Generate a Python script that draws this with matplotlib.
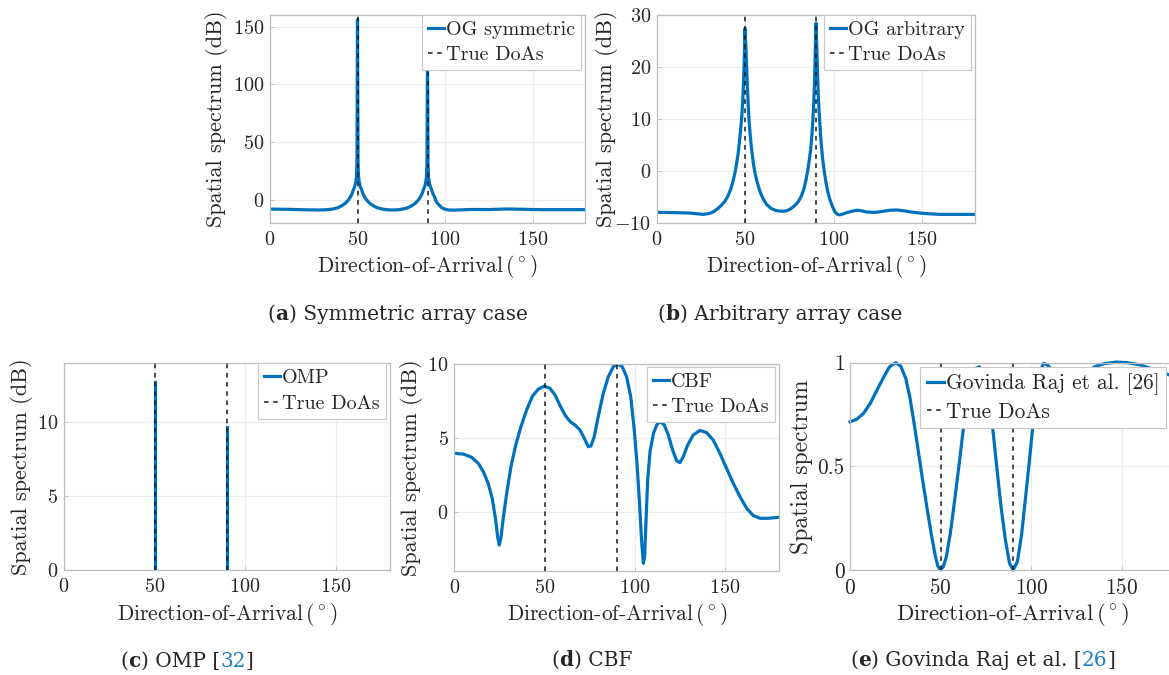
import numpy as np
import matplotlib
matplotlib.use("Agg")
import matplotlib.pyplot as plt

plt.rcParams['font.family'] = 'cmr10'
plt.rcParams['mathtext.fontset'] = 'cm'
plt.rcParams['axes.formatter.use_mathtext'] = True
plt.rcParams['axes.unicode_minus'] = True

W, H = 1169, 675
BLUE = '#0072BD'
TXT = '#262626'
SPINE = '#bdbdbd'
GRID = '#ececec'

true_doas = [50, 90]

# (a) OG symmetric
a_deg = [0, 10, 20, 28, 32, 36.2, 39, 41, 43, 44.8, 46, 47, 47.6, 48.4, 49.1, 49.4, 49.7, 50,
         50.3, 50.6, 50.9, 51.6, 52.4, 53, 54, 55.2, 57, 59, 61, 63.8, 67, 70,
         73, 76.2, 79, 81, 83, 84.8, 86, 87, 87.6, 88.4, 89.1, 89.4, 89.7, 90,
         90.3, 90.6, 90.9, 91.6, 92.4, 93, 94, 94.9, 96.5, 98.1, 100, 102, 105, 110, 116, 125, 135,
         145, 155, 180]
a_val = [-8.2, -8.4, -8.8, -9.0, -8.8, -8.1, -6.9, -5.3, -3.2, -0.3, 2.5, 5.5, 8.4, 11.2, 16, 20, 32, 156,
         32, 20, 16, 11.2, 8.4, 5.5, 2.5, -0.3, -3.2, -5.3, -6.9, -8.1, -8.8, -9.0,
         -8.8, -8.1, -6.9, -5.3, -3.2, -0.3, 2.5, 5.5, 8.4, 11.2, 16, 20, 32, 125,
         32, 20, 16, 11.2, 8.4, 5.5, 2.5, -1.5, -4.5, -7.0, -8.3, -9.0, -9.1, -8.8, -8.5, -8.6, -8.1,
         -8.4, -8.7, -8.7]

# (b) OG arbitrary
b_deg = [0, 8, 14, 18.8, 22, 26.4, 30, 32, 34.5, 36.7, 38.7, 40.5, 42, 43.3, 44.3, 45.2, 46, 46.7, 47.4, 48.1,
         48.6, 49, 49.4, 49.6, 49.8, 49.95, 50.2, 50.5, 50.9, 51.3, 51.7, 52.2, 52.9, 53.7, 54.6, 55.6, 57,
         58.4, 60.2, 62.2, 64.5, 66.9, 69, 71.6, 73.5, 75.4, 77.4, 79.2, 80.7, 82, 83.3, 84.4, 85.4, 86.3,
         87.1, 87.7, 88.3, 88.8, 89.2, 89.5, 89.8, 90.1, 90.4, 90.7, 91.1, 91.4, 92, 92.6, 93.2, 93.9, 94.8,
         95.8, 96.8, 98, 99.4, 100.8, 102, 103.3, 105.6, 107.5, 109.3, 111, 113.1, 115, 116.9, 119, 121.6,
         124, 126.3, 129, 131.9, 136, 139.5, 145, 150.8, 155, 160.2, 170, 180]
b_val = [-8.0, -8.05, -8.1, -8.15, -8.25, -8.4, -8.2, -7.9, -7.3, -6.6, -5.8, -4.7, -3.4, -1.8, -0.3, 1.4, 3.2, 5.3,
         7.7, 10.4, 13.2, 16.2, 20, 22.5, 25.5, 27.4, 25.5, 23.3, 19.5, 16.2, 13, 9.8, 6.8, 4.0, 1.6, -0.5, -2.4,
         -4.0, -5.4, -6.5, -7.2, -7.6, -7.75, -7.8, -7.7, -7.4, -6.9, -6.3, -5.6, -4.7, -3.4, -1.8, 0, 2.1,
         4.2, 6.6, 9.6, 13.0, 16.5, 20.7, 25, 28.4, 25, 22, 17.5, 14.3, 10.5, 7.2, 4.6, 2.1, -0.2,
         -2.4, -4.1, -5.6, -6.9, -7.9, -8.35, -8.5, -8.3, -8.05, -7.9, -7.75, -7.6, -7.65, -7.8, -7.95, -8.0,
         -8.0, -7.9, -7.75, -7.6, -7.55, -7.7, -8.0, -8.2, -8.3, -8.4, -8.4, -8.4]

# (c) OMP
omp_deg = [50, 90]
omp_val = [12.7, 9.7]

# (d) CBF
d_deg = [0, 5, 9.6, 13.3, 16.1, 18.8, 21.0, 22.9, 24.0, 24.9, 25.8, 27.1, 29.0, 31.4, 34.0, 36.9, 40.1, 43.2,
         46.5, 49.8, 53.0, 55.8, 58.5, 61.3, 64.1, 66.8, 69.6, 72.0, 74.2, 75.7, 77.5, 79.7, 82.5, 85.3, 88.1,
         90.5, 93.0, 95.4, 97.7, 99.5, 101.2, 102.6, 103.7, 104.7, 105.4, 106.2, 107.1, 108.4, 110.3, 112.1,
         113.9, 116.3, 118.5, 120.9, 123.1, 125.0, 126.8, 129.2, 132.4, 136.1, 139.7, 143.4, 147.1, 150.8,
         154.5, 158.2, 161.9, 165.6, 169.3, 173.9, 180]
d_val = [3.95, 3.9, 3.68, 3.27, 2.7, 1.9, 0.9, -0.56, -1.7, -2.26, -1.8, -0.45, 1.24, 3.05, 4.5, 5.75, 6.9, 7.8,
         8.3, 8.5, 8.35, 7.9, 7.2, 6.55, 6.1, 5.87, 5.53, 4.97, 4.4, 4.45, 5.08, 6.43, 8.0, 9.14, 9.82,
         10.0, 9.82, 9.14, 7.8, 5.75, 3.27, 0.56, -1.92, -3.5, -3.05, -0.56, 2.14, 4.06, 5.3, 5.87,
         6.1, 5.87, 5.2, 4.18, 3.45, 3.32, 3.72, 4.5, 5.2, 5.5, 5.35, 4.85, 3.95, 2.93,
         1.92, 1.02, 0.23, -0.27, -0.45, -0.45, -0.38]

# (e) Govinda Raj et al.
e_deg = [0, 3.7, 7.5, 11.2, 14.9, 18.7, 21.8, 25.2, 28, 30.8, 33.0, 35.4, 37.9, 40.1, 42.4, 44.8, 47.0, 48.5,
         50, 51.5, 53.2, 55.4, 57.8, 60.3, 62.5, 64.9, 67.2, 69.4, 71.5, 73.7, 75.6, 77.4, 79.3, 81.2, 83.4,
         85.8, 88.1, 90.1, 92.4, 94.6, 96.6, 98.9, 101.1, 103.2, 105.0, 106.9, 109.1, 112, 116, 120, 125,
         130, 135, 140, 147, 153, 160, 165, 170, 175, 180]
e_val = [0.715, 0.727, 0.756, 0.804, 0.868, 0.932, 0.98, 1.0, 0.984, 0.924, 0.836, 0.707, 0.563, 0.434, 0.305,
         0.177, 0.072, 0.019, 0.0, 0.016, 0.064, 0.177, 0.338, 0.514, 0.675, 0.82, 0.916, 0.973, 0.98, 0.949,
         0.884, 0.788, 0.643, 0.482, 0.305, 0.145, 0.032, 0.0, 0.04, 0.161, 0.322, 0.514, 0.707, 0.868, 0.957,
         0.997, 0.989, 0.96, 0.92, 0.9, 0.91, 0.95, 0.98, 0.995, 1.003, 1.0, 0.99, 0.975, 0.96, 0.945, 0.93]

fig = plt.figure(figsize=(W / 100, H / 100), dpi=100)


def make_ax(l, r, t, b):
    return fig.add_axes([l / W, 1 - b / H, (r - l) / W, (b - t) / H])


def style(ax, ylim, yticks, ylabel, ylab_off, legend_right_px, legend_top_px, box, scale=1.0):
    l, r, t, b = box
    ax.set_xlim(0, 180)
    ax.set_ylim(*ylim)
    ax.set_xticks([0, 50, 100, 150])
    ax.set_yticks(yticks)
    ax.grid(True, color=GRID, linewidth=0.8)
    ax.set_axisbelow(True)
    for s in ax.spines.values():
        s.set_color(SPINE)
        s.set_linewidth(0.9)
    ax.tick_params(direction='in', length=3, width=0.6, color=SPINE, labelcolor=TXT,
                   labelsize=14.5 * scale, top=False, right=False)
    ax.tick_params(axis='x', pad=6)
    ax.tick_params(axis='y', pad=4)
    ax.set_xlabel(r'Direction-of-Arrival$\,(^\circ)$', fontsize=15.5 * scale, color=TXT)
    ax.xaxis.label.set_va('center')
    ax.xaxis.set_label_coords(0.5, -44 / (b - t))
    ax.set_ylabel(ylabel, fontsize=16 * scale, color=TXT)
    ax.yaxis.label.set_va('center')
    ax.yaxis.set_label_coords(-ylab_off / (r - l), 0.5)
    leg = ax.legend(loc='upper right',
                    bbox_to_anchor=((legend_right_px - l) / (r - l), 1 - (legend_top_px - t) / (b - t)),
                    borderaxespad=0, fontsize=14.5 * scale, handlelength=0.8, handletextpad=0.1,
                    borderpad=0.3, labelspacing=0.35, fancybox=False, framealpha=1,
                    edgecolor='#c8c8c8')
    leg.get_frame().set_linewidth(0.8)
    for txt in leg.get_texts():
        txt.set_color(TXT)


def doas(ax):
    for i, d in enumerate(true_doas):
        ax.axvline(d, color='#1a1a1a', linestyle=(0, (3, 3)), linewidth=1.1,
                   label='True DoAs' if i == 0 else None, zorder=3)


LW = 2.3

# (a)
box = (270, 585, 15, 222.7)
ax = make_ax(*box)
ax.plot(a_deg, a_val, color=BLUE, linewidth=LW, label='OG symmetric', zorder=2)
doas(ax)
style(ax, (-20, 160), [0, 50, 100, 150], 'Spatial spectrum (dB)', 53, 581, 15, box)

# (b)
box = (656.7, 975, 15, 222.7)
ax = make_ax(*box)
ax.plot(b_deg, b_val, color=BLUE, linewidth=LW, label='OG arbitrary', zorder=2)
doas(ax)
style(ax, (-10, 30), [-10, 0, 10, 20, 30], 'Spatial spectrum (dB)', 50, 971, 15, box)

# (c)
box = (64, 390, 363.3, 570)
ax = make_ax(*box)
for i, (d, v) in enumerate(zip(omp_deg, omp_val)):
    ax.plot([d, d], [0, v], color=BLUE, linewidth=LW, label='OMP' if i == 0 else None, zorder=2)
doas(ax)
style(ax, (0, 14), [0, 5, 10], 'Spatial spectrum (dB)', 42, 386, 363.3, box)

# (d)
box = (454.3, 779.3, 364, 570.7)
ax = make_ax(*box)
ax.plot(d_deg, d_val, color=BLUE, linewidth=LW, label='CBF', zorder=2)
doas(ax)
style(ax, (-4, 10), [0, 5, 10], 'Spatial spectrum (dB)', 42.6, 775, 366.7, box)

# (e)
box = (850, 1176, 362.7, 570)
ax = make_ax(*box)
ax.plot(e_deg, e_val, color=BLUE, linewidth=LW, label='Govinda Raj et al. [26]', zorder=2, clip_on=False)
doas(ax)
style(ax, (0, 1), [0, 0.5, 1], 'Spatial spectrum', 48, 1166, 366.7, box, scale=1.06)
ax.set_yticklabels(['0', '0.5', '1'])

# captions
renderer = fig.canvas.get_renderer()
CAP_FONT = 'DejaVu Serif'
CITE = '#1f7fc4'


def caption(x0, ybase, parts, size=14.5):
    x = x0
    for txt, weight, color in parts:
        t = fig.text(x / W, 1 - ybase / H, txt, fontsize=size, fontweight=weight, color=color,
                     family=CAP_FONT, ha='left', va='baseline')
        x += t.get_window_extent(renderer).width


caption(267.7, 320, [('(', 'normal', TXT), ('a', 'bold', TXT), (') Symmetric array case', 'normal', TXT)])
caption(657.7, 320, [('(', 'normal', TXT), ('b', 'bold', TXT), (') Arbitrary array case', 'normal', TXT)])
caption(120.7, 667, [('(', 'normal', TXT), ('c', 'bold', TXT), (') OMP [', 'normal', TXT),
                     ('32', 'normal', CITE), (']', 'normal', TXT)])
caption(551.7, 666, [('(', 'normal', TXT), ('d', 'bold', TXT), (') CBF', 'normal', TXT)])
caption(850, 666, [('(', 'normal', TXT), ('e', 'bold', TXT), (') Govinda Raj et al. [', 'normal', TXT),
                   ('26', 'normal', CITE), (']', 'normal', TXT)])

fig.savefig('out.png', dpi=100)
